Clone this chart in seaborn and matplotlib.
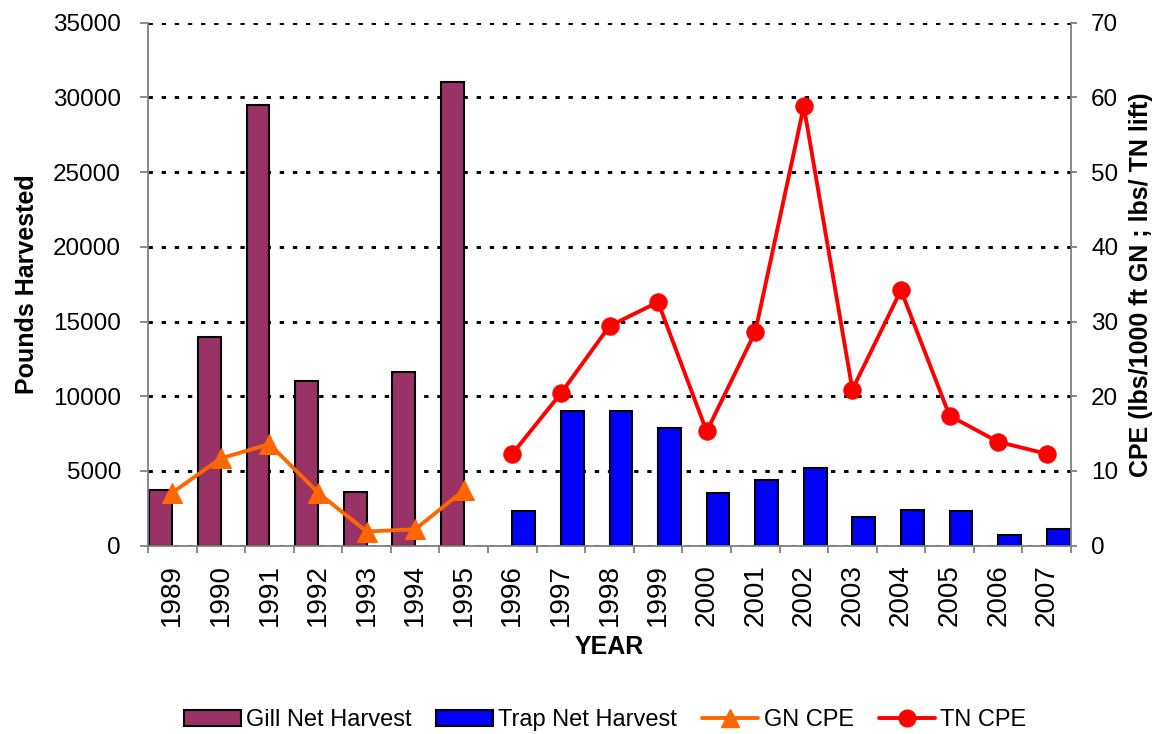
import matplotlib
matplotlib.use("Agg")
import matplotlib.pyplot as plt
import seaborn as sns
import pandas as pd
from matplotlib.patches import Patch
from matplotlib.lines import Line2D

# Harvest and catch-per-effort by year
years = ["1989", "1990", "1991", "1992", "1993", "1994", "1995", "1996", "1997",
         "1998", "1999", "2000", "2001", "2002", "2003", "2004", "2005", "2006", "2007"]

gill_years = ["1989", "1990", "1991", "1992", "1993", "1994", "1995"]
gill_harvest = [3750, 14000, 29500, 11000, 3600, 11650, 31000]
gn_cpe = [7.1, 11.7, 13.6, 7.1, 1.9, 2.2, 7.4]

trap_years = ["1996", "1997", "1998", "1999", "2000", "2001", "2002", "2003",
              "2004", "2005", "2006", "2007"]
trap_harvest = [2300, 9000, 9000, 7900, 3500, 4400, 5200, 1900, 2400, 2300, 700, 1100]
tn_cpe = [12.3, 20.4, 29.4, 32.6, 15.3, 28.6, 58.8, 20.9, 34.2, 17.4, 13.9, 12.3]

series_names = ["Gill Net Harvest", "Trap Net Harvest", "GN CPE", "TN CPE"]

gill_color = "#993366"
trap_color = "#0000FF"
gn_color = "#FF6600"
tn_color = "#FF0000"
axis_gray = "#808080"

sns.set_style("white")
plt.rcParams["font.family"] = ["Liberation Sans", "DejaVu Sans"]
plt.rcParams["text.color"] = "black"
plt.rcParams["axes.labelcolor"] = "black"
plt.rcParams["xtick.color"] = "black"
plt.rcParams["ytick.color"] = "black"

harvest = pd.DataFrame({
    "YEAR": gill_years + trap_years,
    "series": [series_names[0]] * len(gill_years) + [series_names[1]] * len(trap_years),
    "pounds": gill_harvest + trap_harvest,
})
gn = pd.DataFrame({"pos": [years.index(y) for y in gill_years], "cpe": gn_cpe})
tn = pd.DataFrame({"pos": [years.index(y) for y in trap_years], "cpe": tn_cpe})

fig = plt.figure(figsize=(11.64, 7.34), dpi=100)
ax = fig.add_axes([148 / 1164, 1 - 545.7 / 734, 923 / 1164, 523 / 734])

sns.barplot(data=harvest, x="YEAR", y="pounds", hue="series", order=years,
            hue_order=series_names[:2], palette=[gill_color, trap_color],
            dodge=True, width=0.94, edgecolor="black", linewidth=1.5,
            saturation=1, legend=False, ax=ax)

ax.set_axisbelow(True)
ax.set_ylim(0, 35000)
ax.set_yticks(range(0, 35001, 5000))
ax.yaxis.grid(True, color="black", linestyle=(0, (1.5, 3)), linewidth=2.1)
ax.xaxis.grid(False)

ax2 = ax.twinx()
sns.lineplot(data=gn, x="pos", y="cpe", ax=ax2, color=gn_color, linewidth=2.8,
             marker="^", markersize=14, markeredgecolor=gn_color)
sns.lineplot(data=tn, x="pos", y="cpe", ax=ax2, color=tn_color, linewidth=2.8,
             marker="o", markersize=12.5, markeredgecolor=tn_color)
ax2.set_ylim(0, 70)
ax2.set_yticks(range(0, 71, 10))
ax.set_xlim(-0.5, len(years) - 0.5)

# spines
for a in (ax, ax2):
    a.spines["top"].set_visible(False)
ax.spines["right"].set_visible(False)
ax2.spines["left"].set_visible(False)
ax2.spines["bottom"].set_visible(False)
for s in (ax.spines["left"], ax.spines["bottom"], ax2.spines["right"]):
    s.set_color(axis_gray)
    s.set_linewidth(1.3)

# ticks: labels at category centres, tick marks between categories
ax.set_xticks(range(len(years)))
ax.set_xticklabels(years, rotation=90, fontsize=20)
ax.set_xticks([i - 0.5 for i in range(len(years) + 1)], minor=True)
ax.tick_params(axis="x", which="major", length=0, pad=13.5)
ax.tick_params(axis="x", which="minor", length=5, width=1.3, color=axis_gray,
               direction="out", bottom=True)
ax.tick_params(axis="y", which="major", length=5.5, width=1.3, color=axis_gray,
               direction="out", left=True, labelsize=17.5, pad=14)
ax2.tick_params(axis="y", which="major", length=4.5, width=1.3, color=axis_gray,
                direction="out", right=True, labelsize=17.5, pad=10)

ax.set_xlabel("YEAR", fontsize=18, fontweight="bold", labelpad=6)
ax.set_ylabel("Pounds Harvested", fontsize=18, fontweight="bold", labelpad=10)
ax2.set_ylabel("CPE (lbs/1000 ft GN ; lbs/ TN lift)", fontsize=18,
               fontweight="bold", labelpad=8)

handles = [
    Patch(facecolor=gill_color, edgecolor="black", linewidth=1.5),
    Patch(facecolor=trap_color, edgecolor="black", linewidth=1.5),
    Line2D([], [], color=gn_color, linewidth=2.8, marker="^", markersize=13),
    Line2D([], [], color=tn_color, linewidth=2.8, marker="o", markersize=12),
]
fig.legend(handles, series_names, loc="center", bbox_to_anchor=(0.52, 0.019),
           ncol=4, frameon=False, fontsize=17, handlelength=2.4,
           handleheight=0.68, handletextpad=0.22, columnspacing=1.05,
           borderaxespad=0)

fig.savefig("out.png", dpi=100)
